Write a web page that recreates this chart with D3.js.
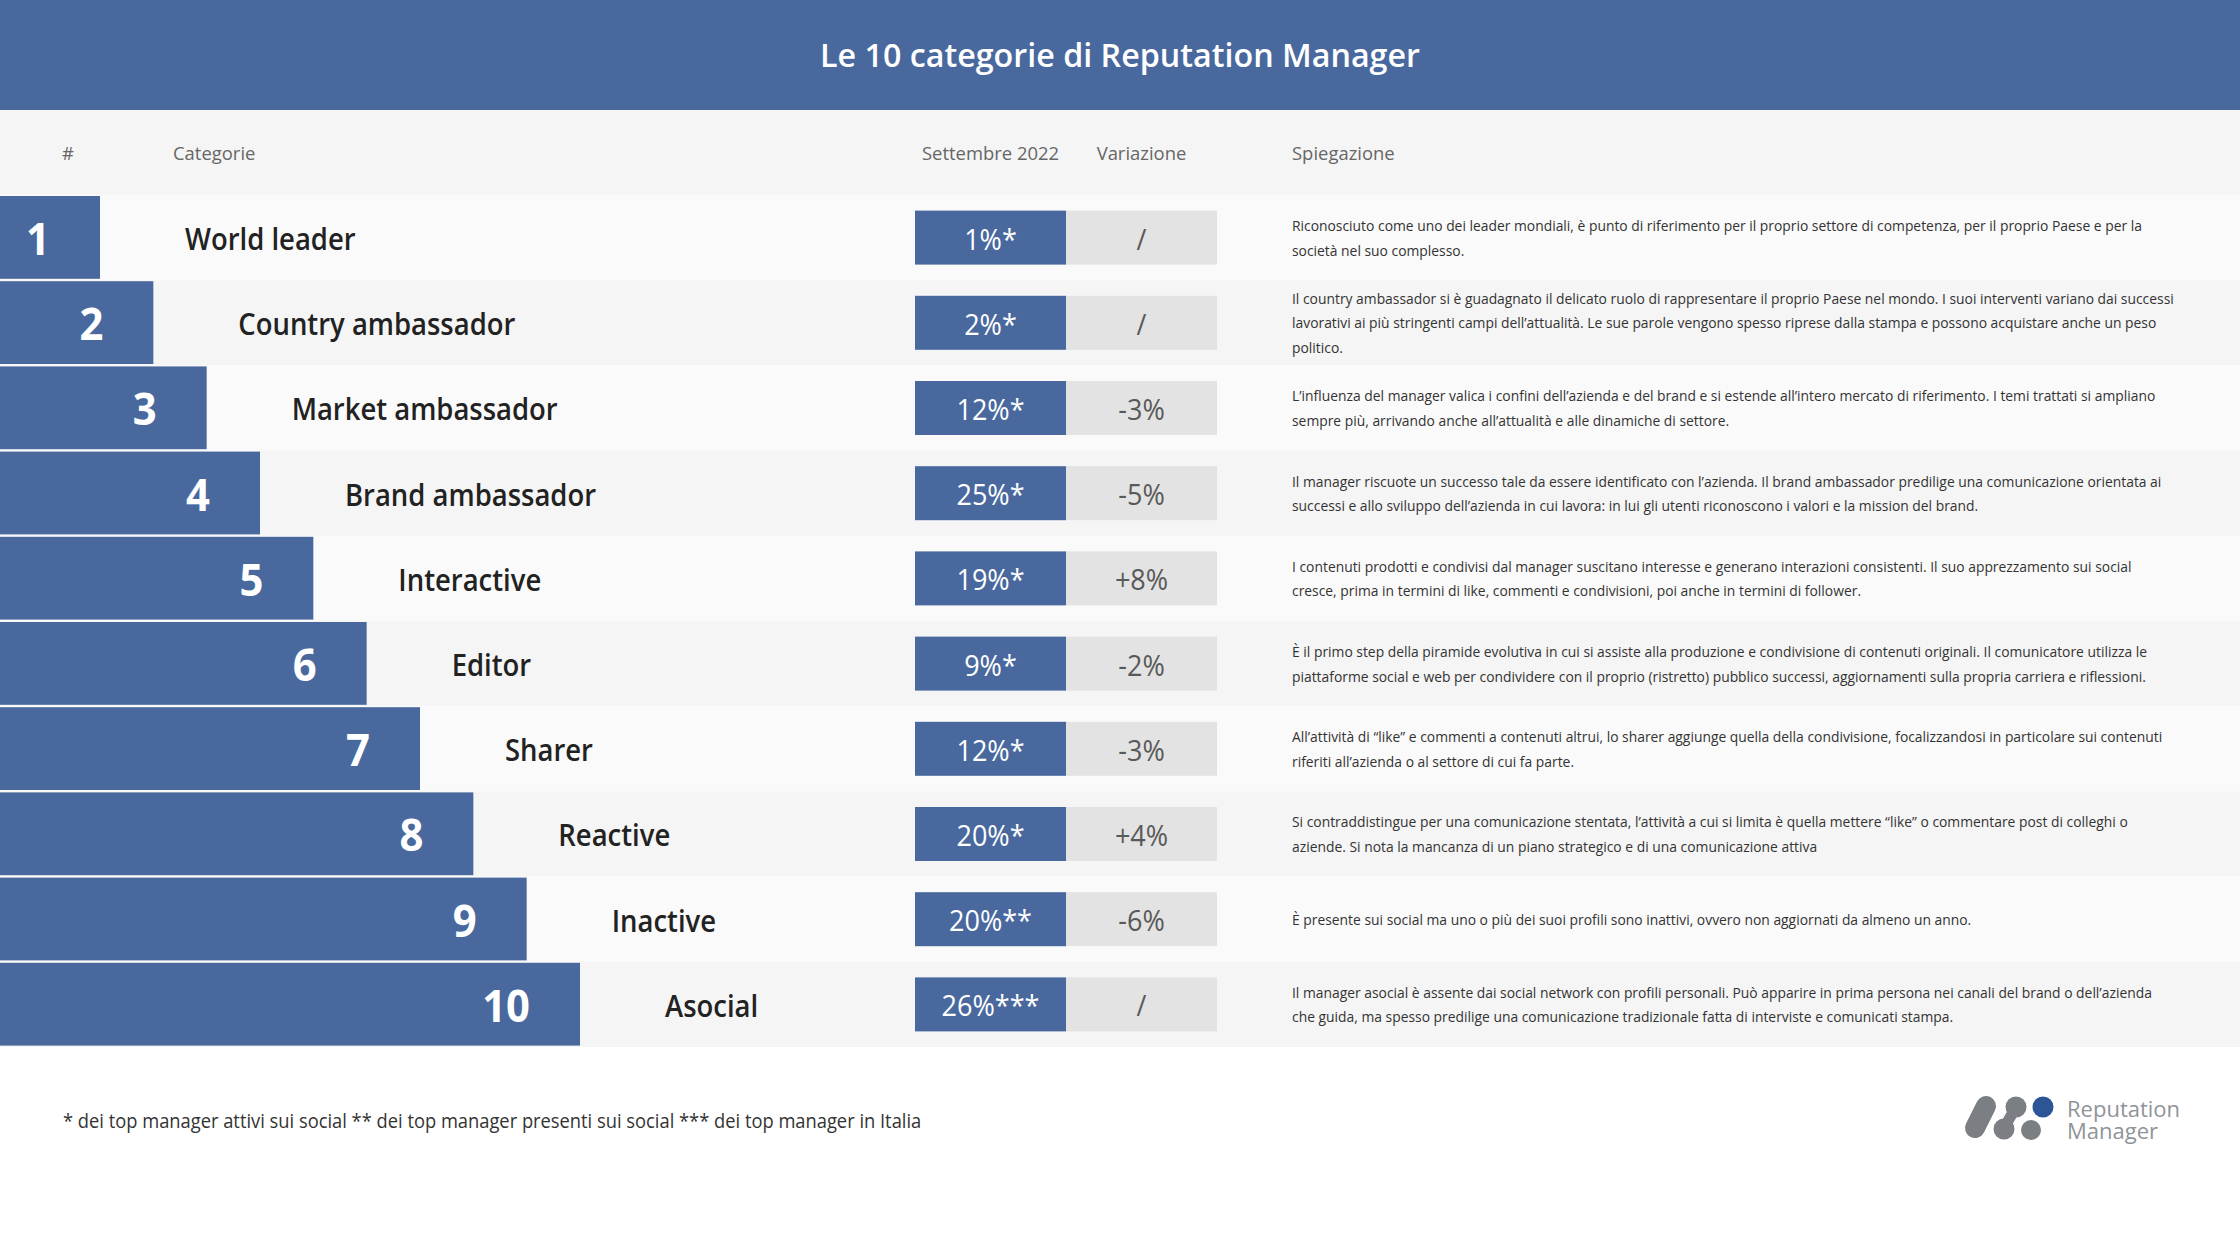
<!DOCTYPE html>
<html lang="it">
<head>
<meta charset="utf-8">
<title>Le 10 categorie di Reputation Manager</title>
<script src="https://cdnjs.cloudflare.com/ajax/libs/d3/7.8.5/d3.min.js"></script>
<style>
  html, body { margin: 0; padding: 0; background: #fff; }
  svg { display: block; }
  text { font-family: "Open Sans", sans-serif; }
</style>
</head>
<body>
<div id="container"></div>
<script>
const w = 2240;
const h = 1260;
const blue = '#49699e';
const textX = 1292;

const title = 'Le 10 categorie di Reputation Manager';
const footnote = '* dei top manager attivi sui social ** dei top manager presenti sui social *** dei top manager in Italia';

const ranks = [1, 2, 3, 4, 5, 6, 7, 8, 9, 10];
const categories = ['World leader', 'Country ambassador', 'Market ambassador', 'Brand ambassador', 'Interactive',
                    'Editor', 'Sharer', 'Reactive', 'Inactive', 'Asocial'];
const september = ['1%*', '2%*', '12%*', '25%*', '19%*', '9%*', '12%*', '20%*', '20%**', '26%***'];
const variation = ['/', '/', '-3%', '-5%', '+8%', '-2%', '-3%', '+4%', '-6%', '/'];
const explanations = [
  ['Riconosciuto come uno dei leader mondiali, è punto di riferimento per il proprio settore di competenza, per il proprio Paese e per la',
   'società nel suo complesso.'],
  ['Il country ambassador si è guadagnato il delicato ruolo di rappresentare il proprio Paese nel mondo. I suoi interventi variano dai successi',
   'lavorativi ai più stringenti campi dell’attualità. Le sue parole vengono spesso riprese dalla stampa e possono acquistare anche un peso',
   'politico.'],
  ['L’influenza del manager valica i confini dell’azienda e del brand e si estende all’intero mercato di riferimento. I temi trattati si ampliano',
   'sempre più, arrivando anche all’attualità e alle dinamiche di settore.'],
  ['Il manager riscuote un successo tale da essere identificato con l’azienda. Il brand ambassador predilige una comunicazione orientata ai',
   'successi e allo sviluppo dell’azienda in cui lavora: in lui gli utenti riconoscono i valori e la mission del brand.'],
  ['I contenuti prodotti e condivisi dal manager suscitano interesse e generano interazioni consistenti. Il suo apprezzamento sui social',
   'cresce, prima in termini di like, commenti e condivisioni, poi anche in termini di follower.'],
  ['È il primo step della piramide evolutiva in cui si assiste alla produzione e condivisione di contenuti originali. Il comunicatore utilizza le',
   'piattaforme social e web per condividere con il proprio (ristretto) pubblico successi, aggiornamenti sulla propria carriera e riflessioni.'],
  ['All’attività di “like” e commenti a contenuti altrui, lo sharer aggiunge quella della condivisione, focalizzandosi in particolare sui contenuti',
   'riferiti all’azienda o al settore di cui fa parte.'],
  ['Si contraddistingue per una comunicazione stentata, l’attività a cui si limita è quella mettere “like” o commentare post di colleghi o',
   'aziende. Si nota la mancanza di un piano strategico e di una comunicazione attiva'],
  ['È presente sui social ma uno o più dei suoi profili sono inattivi, ovvero non aggiornati da almeno un anno.'],
  ['Il manager asocial è assente dai social network con profili personali. Può apparire in prima persona nei canali del brand o dell’azienda',
   'che guida, ma spesso predilige una comunicazione tradizionale fatta di interviste e comunicati stampa.']
];

const svg = d3.select('#container')
              .append('svg')
              .attr('width', w)
              .attr('height', h);

// Scales
const xScale = d3.scaleLinear().domain([1, 10]).range([100, 580]);
const yScale = d3.scaleBand().domain(ranks).range([195, 1047]);
const cellScale = d3.scaleBand().domain(['sept', 'var']).range([915, 1217]);
const cellHeight = 54;

createHeader();
createRows();
createFooter();
createLogo();

// Open Sans runs wider than the original font, so squeeze the text horizontally
function condense(selection, factor) {
  selection.each(function () {
    d3.select(this)
      .attr('textLength', this.getComputedTextLength() * factor)
      .attr('lengthAdjust', 'spacingAndGlyphs');
  });
}

function createHeader() {
  svg.append('rect')
     .attr('width', w)
     .attr('height', 110)
     .attr('fill', blue);

  svg.append('text')
     .attr('x', w / 2)
     .attr('y', 55)
     .attr('dy', '.35em')
     .attr('text-anchor', 'middle')
     .attr('fill', '#fff')
     .attr('font-size', 33)
     .attr('font-weight', 600)
     .text(title)
     .call(condense, 0.977);

  svg.append('rect')
     .attr('y', 110)
     .attr('width', w)
     .attr('height', 85)
     .attr('fill', '#f5f5f5');

  const columns = [
    { text: '#', x: 68, anchor: 'middle' },
    { text: 'Categorie', x: 173, anchor: 'start' },
    { text: 'Settembre 2022', x: cellScale('sept') + cellScale.bandwidth() / 2, anchor: 'middle' },
    { text: 'Variazione', x: cellScale('var') + cellScale.bandwidth() / 2, anchor: 'middle' },
    { text: 'Spiegazione', x: textX, anchor: 'start' }
  ];

  svg.selectAll('.column-label')
     .data(columns)
     .enter()
     .append('text')
     .attr('class', 'column-label')
     .attr('x', d => d.x)
     .attr('y', 153)
     .attr('dy', '.35em')
     .attr('text-anchor', d => d.anchor)
     .attr('fill', '#666')
     .attr('font-size', 19)
     .text(d => d.text)
     .call(condense, 0.97);
}

function createRows() {
  const row = svg.selectAll('.row')
                 .data(ranks)
                 .enter()
                 .append('g')
                 .attr('class', 'row')
                 .attr('transform', d => `translate(0, ${yScale(d)})`);

  const step = yScale.step();
  const mid = step / 2;

  row.append('rect')
     .attr('width', w)
     .attr('height', step)
     .attr('fill', (d, i) => i % 2 ? '#f5f5f5' : '#fafafa');

  // Stepped bars
  row.append('rect')
     .attr('y', 1)
     .attr('width', d => xScale(d))
     .attr('height', step - 2.4)
     .attr('fill', blue);

  row.append('text')
     .attr('x', d => xScale(d) - 50)
     .attr('y', mid + 2)
     .attr('dy', '.35em')
     .attr('text-anchor', 'end')
     .attr('fill', '#fff')
     .attr('font-size', 44)
     .attr('font-weight', 700)
     .text(d => d)
     .call(condense, 0.95);

  row.append('text')
     .attr('x', d => xScale(d) + 85)
     .attr('y', mid + 2)
     .attr('dy', '.35em')
     .attr('fill', '#222')
     .attr('font-size', 30)
     .attr('font-weight', 600)
     .text((d, i) => categories[i])
     .call(condense, 0.915);

  // Value cells
  const cells = [
    { key: 'sept', values: september, fill: blue, color: '#fff' },
    { key: 'var', values: variation, fill: '#e3e3e3', color: '#595959' }
  ];

  cells.forEach(c => {
    row.append('rect')
       .attr('x', cellScale(c.key))
       .attr('y', mid - cellHeight / 2)
       .attr('width', cellScale.bandwidth())
       .attr('height', cellHeight)
       .attr('fill', c.fill);

    row.append('text')
       .attr('x', cellScale(c.key) + cellScale.bandwidth() / 2)
       .attr('y', mid + 1.5)
       .attr('dy', '.35em')
       .attr('text-anchor', 'middle')
       .attr('fill', c.color)
       .attr('font-size', 30)
       .attr('font-weight', 500)
       .text((d, i) => c.values[i])
       .call(condense, 0.9);
  });

  // Explanation lines, centred on the row
  const lineHeight = 24.6;
  row.each(function (d, i) {
    const lines = explanations[i];
    d3.select(this)
      .selectAll('.line')
      .data(lines)
      .enter()
      .append('text')
      .attr('class', 'line')
      .attr('x', textX)
      .attr('y', (l, j) => mid + 0.7 + (j - (lines.length - 1) / 2) * lineHeight)
      .attr('dy', '.35em')
      .attr('fill', '#333')
      .attr('font-size', 14.2)
      .text(l => l)
      .call(condense, 0.977);
  });
}

function createFooter() {
  svg.append('text')
     .attr('x', 63)
     .attr('y', 1121)
     .attr('dy', '.35em')
     .attr('fill', '#333')
     .attr('font-size', 19.5)
     .text(footnote)
     .call(condense, 0.939);
}

function createLogo() {
  const logo = svg.append('g').attr('id', 'logo');
  const grey = '#7b7f84';

  logo.append('path')
      .attr('d', 'M1986,1106L1975,1128')
      .attr('stroke', grey)
      .attr('stroke-width', 20)
      .attr('stroke-linecap', 'round');

  logo.append('path')
      .attr('d', 'M2016,1107L2004,1128')
      .attr('stroke', grey)
      .attr('stroke-width', 11)
      .attr('stroke-linecap', 'round');

  logo.selectAll('circle')
      .data([
        { cx: 2016, cy: 1107, r: 10.5, fill: grey },
        { cx: 2004, cy: 1129, r: 10.5, fill: grey },
        { cx: 2031, cy: 1130, r: 10, fill: grey },
        { cx: 2043, cy: 1107, r: 10.5, fill: '#2c5597' }
      ])
      .enter()
      .append('circle')
      .attr('cx', d => d.cx)
      .attr('cy', d => d.cy)
      .attr('r', d => d.r)
      .attr('fill', d => d.fill);

  logo.selectAll('text')
      .data(['Reputation', 'Manager'])
      .enter()
      .append('text')
      .attr('x', 2067)
      .attr('y', (d, i) => 1109 + i * 22)
      .attr('dy', '.35em')
      .attr('fill', '#8f9499')
      .attr('font-size', 22)
      .text(d => d);
}
</script>
</body>
</html>
